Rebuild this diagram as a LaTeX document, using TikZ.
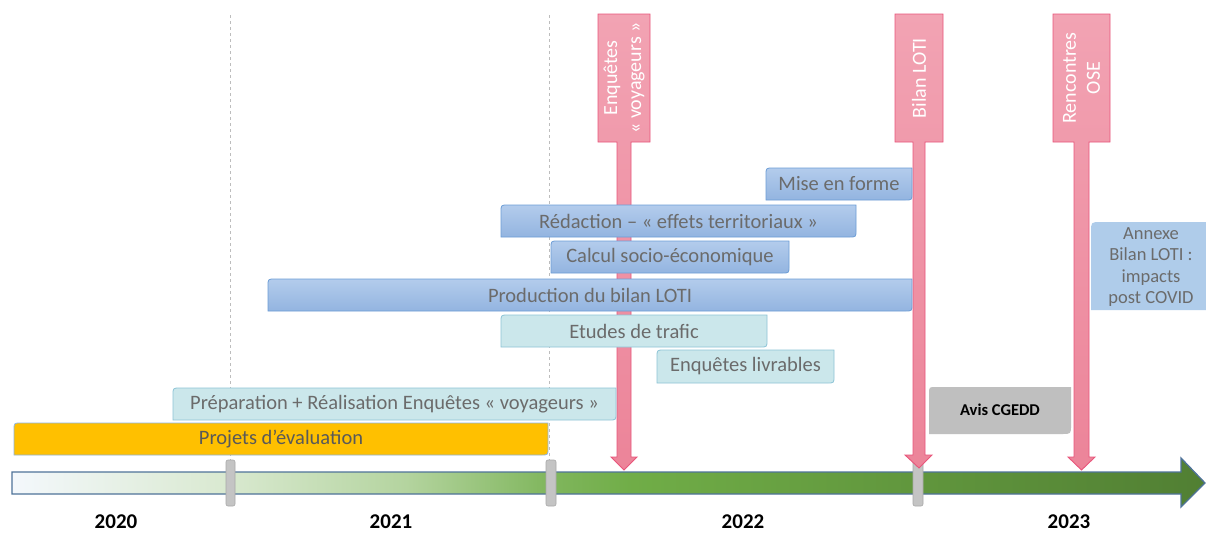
\documentclass[tikz,border=0pt]{standalone}
\usepackage{fontspec}
\setmainfont{Carlito}
\definecolor{txtgray}{HTML}{6B6B6B}
\definecolor{darktxt}{HTML}{595959}
\definecolor{bluetop}{HTML}{B3CCEC}
\definecolor{bluebot}{HTML}{93B4E0}
\definecolor{bluebd}{HTML}{6C9DD6}
\definecolor{cyanfill}{HTML}{CBE7EB}
\definecolor{cyanbd}{HTML}{8DC4D6}
\definecolor{orangefill}{HTML}{FFC000}
\definecolor{orangebd}{HTML}{8DB4E2}
\definecolor{grayfill}{HTML}{BFBFBF}
\definecolor{annexefill}{HTML}{AFCCEA}
\definecolor{pinktop}{HTML}{F2A3B3}
\definecolor{pinkbot}{HTML}{EC8499}
\definecolor{pinkbd}{HTML}{E9557B}
\definecolor{tlA}{HTML}{F4F8FC}
\definecolor{tlA2}{HTML}{D9E9D0}
\definecolor{tlA3}{HTML}{B4D49F}
\definecolor{tlA4}{HTML}{80B65D}
\definecolor{tlB}{HTML}{70AD47}
\definecolor{tlC}{HTML}{517F33}
\definecolor{tlbd}{HTML}{4F7399}
\definecolor{tickfill}{HTML}{C4C4C4}
\definecolor{tickbd}{HTML}{A8A8A8}
\definecolor{dashgray}{HTML}{BDBDBD}
\pgfdeclarehorizontalshading{tlshade}{100bp}{color(0bp)=(tlA); color(25bp)=(tlA); color(34bp)=(tlA2); color(41.5bp)=(tlA3); color(47.5bp)=(tlA4); color(51bp)=(tlB); color(75bp)=(tlC); color(100bp)=(tlC)}
% diagonal-rounded bar: x1,y1,x2,y2,style,name,text
\newcommand\tlbar[7]{%
  \path[#5] (#1,#4) -- (#1,#2+7) .. controls (#1,#2) .. (#1+7,#2) -- (#3,#2) -- (#3,#4-7) .. controls (#3,#4) .. (#3-7,#4) -- cycle;
  \node[bartext] (#6) at ({(#1+#3)/2},{(#2+#4)/2}) {#7};
}
% pink callout: x1,x2 box, s1,s2 stem, h1,h2 head, tip y, name, text
\newcommand\pinkcall[9]{%
  \path[pinkshape] (#1,14) -- (#2,14) -- (#2,142) -- (#4,142) -- (#4,#7-13) -- (#6,#7-13) -- ({(#3+#4)/2},#7) -- (#5,#7-13) -- (#3,#7-13) -- (#3,142) -- (#1,142) -- cycle;
  \node[pinktext] (#8) at ({(#1+#2)/2},78) {#9};
}
\begin{document}
\begin{tikzpicture}[x=1pt,y=-1pt,
  bartext/.style={font=\fontsize{20.5}{24}\selectfont, text=txtgray, inner sep=0pt},
  bluebar/.style={draw=bluebd, line width=0.8pt, top color=bluetop, bottom color=bluebot},
  cyanbar/.style={draw=cyanbd, line width=0.8pt, fill=cyanfill},
  orangebar/.style={draw=orangebd, line width=0.8pt, fill=orangefill},
  graybar/.style={fill=grayfill},
  annexebar/.style={fill=annexefill},
  pinkshape/.style={draw=pinkbd, line width=0.9pt, top color=pinktop, bottom color=pinkbot},
  pinktext/.style={font=\fontsize{20}{24}\selectfont, text=white, rotate=90, align=center, inner sep=0pt},
  yearlbl/.style={font=\bfseries\fontsize{21}{24}\selectfont, text=black, inner sep=0pt},
  tickmark/.style={fill=tickfill, draw=tickbd, line width=0.6pt, rounded corners=2pt},
  vdash/.style={draw=dashgray, line width=0.8pt, dash pattern=on 3pt off 3pt}
]
\useasboundingbox (0,0) rectangle (1206,533);
\fill[white] (0,0) rectangle (1206,533);

% dashed year separators
\coordinate (d1t) at (230,15); \coordinate (d1b) at (230,460);
\coordinate (d2t) at (549,15); \coordinate (d2b) at (549,460);
\draw[vdash] (d1t) -- (d1b);
\draw[vdash] (d2t) -- (d2b);

% timeline arrow
\path[draw=tlbd, line width=1.3pt, shading=tlshade]
  (12,472) -- (1181,472) -- (1181,458) -- (1205,483) -- (1181,507) -- (1181,494) -- (12,494) -- cycle;

% ticks
\draw[tickmark] (226,460) rectangle (235,506);
\draw[tickmark] (546,460) rectangle (556,506);
\draw[tickmark] (913,460) rectangle (923,506);

% year labels
\node[yearlbl] (y2020) at (116,522) {2020};
\node[yearlbl] (y2021) at (391,522) {2021};
\node[yearlbl] (y2022) at (743,522) {2022};
\node[yearlbl] (y2023) at (1069,522) {2023};

% pink milestone callouts
\pinkcall{598}{650}{617}{631}{611}{637}{470}{enq}{Enquêtes\\« voyageurs »}
\pinkcall{895}{943}{913}{925}{905}{932}{468}{bilan}{Bilan LOTI}
\pinkcall{1053}{1110}{1074}{1089}{1068}{1095}{470}{ose}{Rencontres\\OSE}

% bars
\tlbar{766}{168}{912}{200}{bluebar}{mise}{Mise en forme}
\tlbar{501}{205}{856}{237}{bluebar}{redac}{Rédaction – « effets territoriaux »}
\tlbar{551}{241}{789}{273}{bluebar}{calcul}{Calcul socio-économique}
\tlbar{268}{279}{912}{311}{bluebar}{prod}{Production du bilan LOTI}
\tlbar{501}{315}{767}{347}{cyanbar}{etudes}{Etudes de trafic}
\tlbar{657}{350}{834}{383}{cyanbar}{livr}{Enquêtes livrables}
\tlbar{173}{388}{616}{420}{cyanbar}{prep}{Préparation + Réalisation Enquêtes « voyageurs »}
\tlbar{14}{423}{548}{455}{orangebar}{proj}{\textcolor{darktxt}{Projets d’évaluation}}
\path[graybar] (929,434) -- (929,387+7) .. controls (929,387) .. (929+7,387) -- (1071,387) -- (1071,434-9) .. controls (1071,434) .. (1071-9,434) -- cycle;
\node[font=\bfseries\fontsize{16.5}{20}\selectfont, text=black] (avis) at (1000,410) {Avis CGEDD};
\path[annexebar] (1091,310) -- (1091,222+10) .. controls (1091,222) .. (1091+10,222) -- (1206,222) -- (1206,310) -- cycle;
\node[font=\fontsize{18.5}{21.5}\selectfont, text=txtgray, align=center, inner sep=0pt] (annexe) at (1151,267) {Annexe\\Bilan LOTI :\\impacts\\post COVID};
\end{tikzpicture}
\end{document}
